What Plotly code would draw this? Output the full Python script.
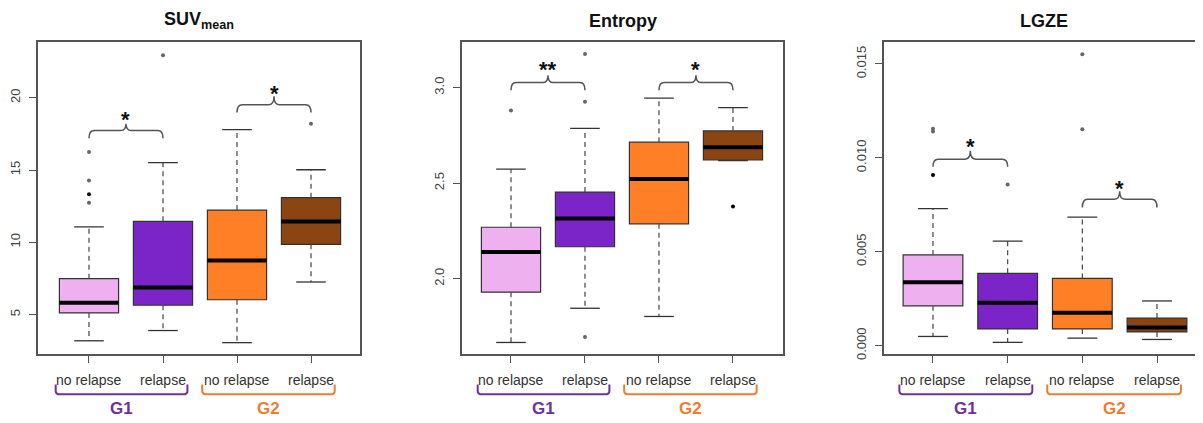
import plotly.graph_objects as go

# ---------------- data ----------------
categories = ["no relapse", "relapse", "no relapse", "relapse"]
positions = [1, 2, 3, 4]
groups = ["G1", "G2"]
box_colors = ["#EEB0EE", "#7B24C8", "#FF7F27", "#8B4513"]
group_colors = ["#7030A0", "#ED7D31"]

titles = ["SUV<sub>mean</sub>", "Entropy", "LGZE"]

suv_lower = [3.18, 3.89, 3.05, 7.25]
suv_q1 = [5.11, 5.64, 6.02, 9.86]
suv_median = [5.82, 6.86, 8.73, 11.43]
suv_q3 = [7.48, 11.45, 12.23, 13.09]
suv_upper = [11.07, 15.52, 17.80, 15.02]
suv_outlier_x = [1, 1, 1, 1, 2, 4]
suv_outlier_y = [16.25, 14.27, 13.32, 12.73, 22.95, 18.2]
suv_outlier_col = ["#666666", "#666666", "#111111", "#666666", "#666666", "#666666"]

ent_lower = [1.666, 1.845, 1.802, 2.618]
ent_q1 = [1.929, 2.167, 2.287, 2.621]
ent_median = [2.139, 2.315, 2.522, 2.688]
ent_q3 = [2.269, 2.453, 2.714, 2.773]
ent_upper = [2.573, 2.787, 2.945, 2.895]
ent_outlier_x = [1, 2, 2, 2, 4]
ent_outlier_y = [2.88, 2.926, 3.176, 1.695, 2.377]
ent_outlier_col = ["#666666", "#666666", "#666666", "#666666", "#000000"]

lgze_lower = [0.00049, 0.000175, 0.00040, 0.00033]
lgze_q1 = [0.00212, 0.00089, 0.00089, 0.00073]
lgze_median = [0.00337, 0.00229, 0.00175, 0.00096]
lgze_q3 = [0.00483, 0.00385, 0.00358, 0.00147]
lgze_upper = [0.00729, 0.00556, 0.00684, 0.00238]
lgze_outlier_x = [1, 1, 1, 2, 3, 3]
lgze_outlier_y = [0.00909, 0.01140, 0.01155, 0.00858, 0.01152, 0.01552]
lgze_outlier_col = ["#000000", "#666666", "#666666", "#666666", "#666666", "#666666"]

# significance brackets: (from, to, level, tip, notch, star level, label)
suv_sig = [(1, 2, 17.73, 17.2, 18.2, 18.9, "*"), (3, 4, 19.52, 18.98, 20.1, 20.7, "*")]
ent_sig = [(1, 2, 3.026, 2.986, 3.065, 3.124, "**"), (3, 4, 3.026, 2.986, 3.065, 3.124, "*")]
lgze_sig = [(1, 2, 0.00993, 0.00953, 0.01037, 0.01093, "*"), (3, 4, 0.0078, 0.00736, 0.00822, 0.00871, "*")]

y_ticks = [[5, 10, 15, 20], [2.0, 2.5, 3.0], [0.000, 0.005, 0.010, 0.015]]
y_tick_text = [["5", "10", "15", "20"], ["2.0", "2.5", "3.0"], ["0.000", "0.005", "0.010", "0.015"]]
y_ranges = [[2.27, 23.83], [1.606, 3.236], [-0.00044, 0.01614]]
x_ranges = [[0.311, 4.662], [0.338, 4.676], [0.344, 4.616]]
group_spans = [(0.55, 2.33), (2.53, 4.32)]

panels = [
    (suv_lower, suv_q1, suv_median, suv_q3, suv_upper, suv_outlier_x, suv_outlier_y, suv_outlier_col, suv_sig),
    (ent_lower, ent_q1, ent_median, ent_q3, ent_upper, ent_outlier_x, ent_outlier_y, ent_outlier_col, ent_sig),
    (lgze_lower, lgze_q1, lgze_median, lgze_q3, lgze_upper, lgze_outlier_x, lgze_outlier_y, lgze_outlier_col, lgze_sig),
]

# ---------------- figure ----------------
# the page body has an 8px margin, so the figure is drawn 8px in from the corner
OFF = 8
W, H = 1203 - OFF, 423 - OFF


def px(x):  # page pixel -> paper x
    return (x - OFF) / W


def py(y):  # page pixel -> paper y
    return (H - (y - OFF)) / H


x_domains = [[px(38), px(360)], [px(462), px(783)], [px(884), 1.0]]
ydom = [py(359), py(43)]

fig = go.Figure()
BOXW = 0.8
CAPW = 0.4
frame_col = "#555555"
font_main = "Liberation Sans, Arial, sans-serif"

shapes = []
annotations = []

for p, (lo, q1, med, q3, up, ox, oy, oc, sig) in enumerate(panels):
    xa = "x" if p == 0 else f"x{p+1}"
    ya = "y" if p == 0 else f"y{p+1}"
    # dashed whiskers
    wx, wy = [], []
    for i, pos in enumerate(positions):
        wx += [pos, pos, None, pos, pos, None]
        wy += [q3[i], up[i], None, q1[i], lo[i], None]
    fig.add_trace(go.Scatter(x=wx, y=wy, mode="lines", xaxis=xa, yaxis=ya,
                             line=dict(color="#444444", width=1.2, dash="5px,4px"),
                             showlegend=False, hoverinfo="skip"))
    # caps
    cx, cy = [], []
    for i, pos in enumerate(positions):
        cx += [pos - CAPW / 2, pos + CAPW / 2, None, pos - CAPW / 2, pos + CAPW / 2, None]
        cy += [up[i], up[i], None, lo[i], lo[i], None]
    fig.add_trace(go.Scatter(x=cx, y=cy, mode="lines", xaxis=xa, yaxis=ya,
                             line=dict(color="#333333", width=1.3),
                             showlegend=False, hoverinfo="skip"))
    # boxes
    for i, pos in enumerate(positions):
        fig.add_trace(go.Box(x=[pos], q1=[q1[i]], median=[med[i]], q3=[q3[i]],
                             lowerfence=[q1[i]], upperfence=[q3[i]],
                             width=BOXW, whiskerwidth=0, fillcolor=box_colors[i],
                             line=dict(color="#333333", width=1.2),
                             xaxis=xa, yaxis=ya, showlegend=False, boxpoints=False))
    # thick medians
    mx, my = [], []
    for i, pos in enumerate(positions):
        mx += [pos - BOXW / 2, pos + BOXW / 2, None]
        my += [med[i], med[i], None]
    fig.add_trace(go.Scatter(x=mx, y=my, mode="lines", xaxis=xa, yaxis=ya,
                             line=dict(color="black", width=4),
                             showlegend=False, hoverinfo="skip"))
    # outliers
    fig.add_trace(go.Scatter(x=ox, y=oy, mode="markers", xaxis=xa, yaxis=ya,
                             marker=dict(color=oc, size=4),
                             showlegend=False))
    # significance brackets
    for (a, b, yh, yt, yn, ys, lab) in sig:
        r = 0.07
        m = (a + b) / 2
        path = (f"M {a},{yt} Q {a},{yh} {a+r},{yh} L {m-r},{yh} "
                f"Q {m},{yh} {m},{yn} Q {m},{yh} {m+r},{yh} "
                f"L {b-r},{yh} Q {b},{yh} {b},{yt}")
        shapes.append(dict(type="path", path=path, xref=xa, yref=ya,
                           line=dict(color="#555555", width=1.5)))
        annotations.append(dict(x=m, y=ys, xref=xa, yref=ya, text=f"<b>{lab}</b>",
                                showarrow=False, font=dict(size=22, color="#111111",
                                                          family=font_main),
                                yanchor="middle", yshift=-6))
    # category labels
    for pos, cat in zip(positions, categories):
        annotations.append(dict(x=pos, y=py(385), xref=xa, yref="paper",
                                text=cat, showarrow=False, yanchor="middle",
                                font=dict(size=14, color="#333333", family=font_main)))
    # group brackets and labels
    for g, (g0, g1) in enumerate(group_spans):
        yb = py(400)
        yt2 = py(390)
        rr = 0.06
        dy = (yt2 - yb) * 0.35
        path = (f"M {g0},{yt2} L {g0},{yb+dy} Q {g0},{yb} {g0+rr},{yb} "
                f"L {g1-rr},{yb} Q {g1},{yb} {g1},{yb+dy} L {g1},{yt2}")
        shapes.append(dict(type="path", path=path, xref=xa, yref="paper",
                           line=dict(color=group_colors[g], width=2)))
        annotations.append(dict(x=(g0 + g1) / 2, y=py(414), xref=xa, yref="paper",
                                text=f"<b>{groups[g]}</b>", showarrow=False,
                                yanchor="middle",
                                font=dict(size=17, color=group_colors[g], family=font_main)))
    # title
    annotations.append(dict(x=0.5, y=py(21), xref=f"{xa} domain", yref="paper",
                            text=f"<b>{titles[p]}</b>", showarrow=False, yanchor="middle",
                            font=dict(size=18, color="#111111", family=font_main)))

layout = dict(width=W, height=H, margin=dict(l=0, r=0, t=0, b=0),
              paper_bgcolor="white", plot_bgcolor="white", showlegend=False,
              shapes=shapes, annotations=annotations, boxmode="overlay")
for p in range(3):
    xk = "xaxis" if p == 0 else f"xaxis{p+1}"
    yk = "yaxis" if p == 0 else f"yaxis{p+1}"
    ya = "y" if p == 0 else f"y{p+1}"
    xa = "x" if p == 0 else f"x{p+1}"
    layout[xk] = dict(domain=x_domains[p], range=x_ranges[p], anchor=ya,
                      tickvals=positions, showticklabels=False, ticks="outside",
                      ticklen=7, tickcolor=frame_col, tickwidth=1.3,
                      showline=True, linecolor=frame_col, linewidth=1.5, mirror=True,
                      showgrid=False, zeroline=False, fixedrange=True)
    layout[yk] = dict(domain=ydom, range=y_ranges[p], anchor=xa,
                      tickvals=y_ticks[p], ticktext=y_tick_text[p], ticks="outside",
                      ticklen=7, tickcolor=frame_col, tickwidth=1.3, tickangle=-90,
                      ticklabelstandoff=4,
                      tickfont=dict(size=13, color="#444444", family=font_main),
                      showline=True, linecolor=frame_col, linewidth=1.5,
                      mirror=(p < 2), showgrid=False, zeroline=False, fixedrange=True)
fig.update_layout(**layout)
fig.write_html("out.html")
